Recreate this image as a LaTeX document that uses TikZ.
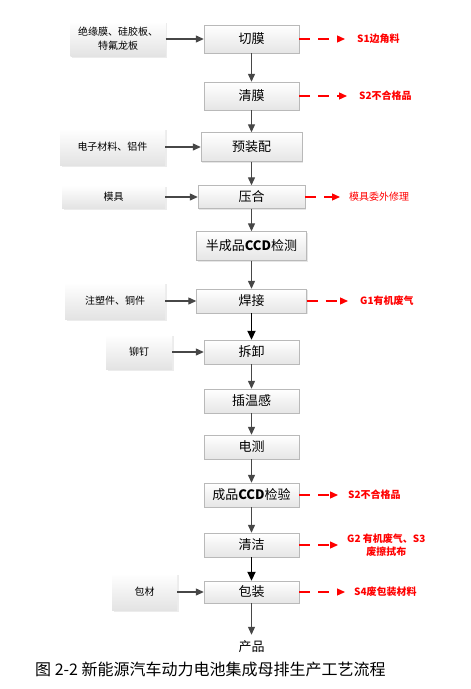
\documentclass[tikz,border=0pt]{standalone}
\usepackage{fontspec}
\setmainfont{Noto Sans CJK SC}
\usetikzlibrary{arrows.meta,positioning,shadows}

\begin{document}
\begin{tikzpicture}[
  x=1pt, y=-1pt,
  stage/.style={draw=gray!55, top color=white, bottom color=gray!20, minimum width=95pt, minimum height=24pt,
    inner sep=1pt, font=\fontsize{13}{15}\selectfont,
    drop shadow={shadow xshift=1pt, shadow yshift=-1pt, opacity=.2}},
  feed/.style={top color=white, bottom color=gray!22, align=center, inner sep=1pt,
    font=\fontsize{10}{14}\selectfont,
    drop shadow={shadow xshift=1.5pt, shadow yshift=-1.5pt, opacity=.15}},
  flow/.style={-{Triangle[length=8pt, width=7pt]}, draw=black!72, line width=1.2pt},
  heavy/.style={-{Triangle[length=9pt, width=8pt]}, draw=black, line width=1.8pt},
  waste/.style={-{Triangle[length=8pt, width=7pt]}, draw=red, line width=1.3pt,
    dash pattern=on 11pt off 8pt, shorten >=12pt},
  wtext/.style={text=red, anchor=west, inner sep=0pt, align=center, font=\fontsize{10}{13}\selectfont\bfseries},
  every node/.style={font=\fontsize{10}{12}\selectfont}
]
  \useasboundingbox (0,0) rectangle (471,689);

  % Main process column
  \node[stage, minimum height=28pt] (cut) at (251.5,39) {切膜};
  \node[stage, minimum height=28pt] (clean) at (251.5,96) {清膜};
  \node[stage, minimum width=101pt, minimum height=29pt] (pre) at (251.5,147) {预装配};
  \node[stage, minimum width=107pt, minimum height=23pt] (press) at (251.5,197) {压合};
  \node[stage, minimum width=110pt, minimum height=29pt] (semi) at (251.5,246) {半成品\textbf{CCD}检测};
  \node[stage, minimum width=110pt] (weld) at (251.5,301) {焊接};
  \node[stage] (strip) at (251.5,352) {拆卸};
  \node[stage] (sensor) at (251.5,401) {插温感};
  \node[stage] (etest) at (251.5,447) {电测};
  \node[stage] (final) at (251.5,495) {成品\textbf{CCD}检验};
  \node[stage] (wash) at (251.5,545) {清洁};
  \node[stage, minimum height=22pt] (pack) at (251.5,592) {包装};
  \node[font=\fontsize{13}{15}\selectfont, inner sep=6pt] (prod) at (251.5,647) {产品};

  \draw[flow] (cut) -- (clean);
  \draw[flow] (clean) -- (pre);
  \draw[flow] (pre) -- (press);
  \draw[flow] (press) -- (semi);
  \draw[flow] (semi) -- (weld);
  \draw[heavy] (weld) -- (strip);
  \draw[flow] (strip) -- (sensor);
  \draw[flow] (sensor) -- (etest);
  \draw[flow] (etest) -- (final);
  \draw[flow] (final) -- (wash);
  \draw[heavy] (wash) -- (pack);
  \draw[flow] (pack) -- (prod);

  % Raw material inputs
  \node[feed, minimum width=95pt, minimum height=35pt] (film) at (118,39) {绝缘膜、硅胶板、\\特氟龙板};
  \node[feed, minimum width=105pt, minimum height=37pt] (elec) at (112.5,147) {电子材料、铝件};
  \node[feed, minimum width=103pt, minimum height=23pt] (mould) at (113.5,197) {模具};
  \node[feed, minimum width=100pt, minimum height=37pt] (mold) at (115,301) {注塑件、铜件};
  \node[feed, minimum width=66pt, minimum height=35pt] (rivet) at (139,352) {铆钉};
  \node[feed, minimum width=65pt, minimum height=37pt] (wrap) at (144.5,592) {包材};

  \draw[flow] (film) -- (cut);
  \draw[flow] (elec) -- (pre);
  \draw[flow] (mould) -- (press);
  \draw[flow] (mold) -- (weld);
  \draw[flow] (rivet) -- (strip);
  \draw[flow] (wrap) -- (pack);

  % Waste outputs
  \node[wtext] (s1) at (357,39) {S1边角料};
  \node[wtext] (s2) at (359,96) {S2不合格品};
  \node[wtext, font=\fontsize{10}{13}\selectfont] (repair) at (349,197) {模具委外修理};
  \node[wtext] (g1) at (360,301) {G1有机废气};
  \node[wtext] (s2b) at (348,495) {S2不合格品};
  \node[wtext] (g2) at (347,545) {G2 有机废气、S3\\废擦拭布};
  \node[wtext] (s4) at (354,592) {S4废包装材料};

  \draw[waste] (cut) -- (s1);
  \draw[waste] (clean) -- (s2);
  \draw[waste, shorten >=9pt] (press) -- (repair);
  \draw[waste] (weld) -- (g1);
  \draw[waste, shorten >=10pt] (final) -- (s2b);
  \draw[waste, shorten >=9pt] (wash) -- (g2);
  \draw[waste, shorten >=9pt] (pack) -- (s4);

  % Caption
  \node[anchor=west, inner sep=0pt, font=\fontsize{16}{18}\selectfont] (cap) at (35,669) {图 2-2 新能源汽车动力电池集成母排生产工艺流程};
\end{tikzpicture}
\end{document}
